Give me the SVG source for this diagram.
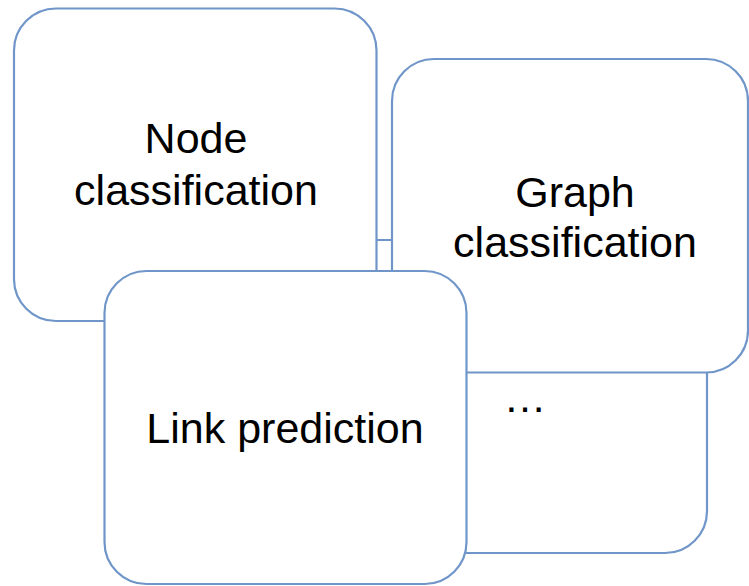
<svg xmlns="http://www.w3.org/2000/svg" width="749" height="586" viewBox="0 0 749 586">
  <style>
    .card { fill: #ffffff; stroke: #7096c9; stroke-width: 2.2; }
    .label { font-family: "Liberation Sans", Arial, sans-serif; font-size: 43px; fill: #000000; text-anchor: middle; }
  </style>
  <rect width="749" height="586" fill="#ffffff"/>
  <!-- back card: more tasks -->
  <g id="more">
    <rect class="card" x="325" y="240" width="382" height="313" rx="42" ry="42"/>
    <text class="label" x="525" y="412">…</text>
  </g>
  <g id="node-classification">
    <rect class="card" x="14" y="8.5" width="362.5" height="312.5" rx="42" ry="42"/>
    <text class="label" x="196" y="153">Node</text>
    <text class="label" x="196" y="205">classification</text>
  </g>
  <g id="graph-classification">
    <rect class="card" x="392" y="59" width="356" height="313.5" rx="42" ry="42"/>
    <text class="label" x="575" y="207">Graph</text>
    <text class="label" x="575" y="257">classification</text>
  </g>
  <g id="link-prediction">
    <rect class="card" x="104.5" y="271" width="362" height="313" rx="42" ry="42"/>
    <text class="label" x="285" y="443">Link prediction</text>
  </g>
  <g id="connectors"/>
</svg>
